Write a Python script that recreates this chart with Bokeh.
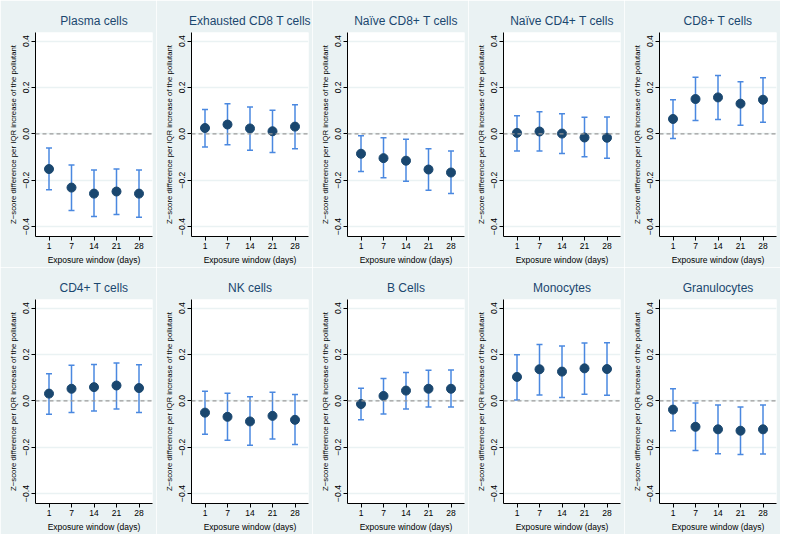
from bokeh.plotting import figure
from bokeh.layouts import gridplot
from bokeh.models import FixedTicker, Span, Whisker, TeeHead, ColumnDataSource
from bokeh.embed import file_html
from bokeh.resources import INLINE

windows = ["1", "7", "14", "21", "28"]

plasma_est = [-0.152, -0.232, -0.258, -0.249, -0.258]
plasma_lo = [-0.241, -0.331, -0.357, -0.348, -0.360]
plasma_hi = [-0.061, -0.135, -0.156, -0.152, -0.156]

exh_cd8_est = [0.025, 0.040, 0.023, 0.011, 0.031]
exh_cd8_lo = [-0.057, -0.047, -0.071, -0.081, -0.065]
exh_cd8_hi = [0.105, 0.130, 0.116, 0.102, 0.125]

naive_cd8_est = [-0.086, -0.105, -0.116, -0.154, -0.167]
naive_cd8_lo = [-0.163, -0.190, -0.205, -0.244, -0.258]
naive_cd8_hi = [-0.008, -0.017, -0.024, -0.064, -0.074]

naive_cd4_est = [0.004, 0.010, 0.001, -0.016, -0.017]
naive_cd4_lo = [-0.074, -0.074, -0.085, -0.099, -0.105]
naive_cd4_hi = [0.078, 0.095, 0.086, 0.071, 0.072]

cd8_est = [0.064, 0.150, 0.157, 0.130, 0.147]
cd8_lo = [-0.020, 0.057, 0.062, 0.037, 0.050]
cd8_hi = [0.147, 0.244, 0.252, 0.225, 0.242]

cd4_est = [0.031, 0.052, 0.059, 0.066, 0.055]
cd4_lo = [-0.058, -0.050, -0.044, -0.035, -0.050]
cd4_hi = [0.117, 0.153, 0.157, 0.163, 0.156]

nk_est = [-0.051, -0.069, -0.089, -0.065, -0.082]
nk_lo = [-0.144, -0.170, -0.192, -0.165, -0.188]
nk_hi = [0.041, 0.033, 0.017, 0.037, 0.027]

bcell_est = [-0.014, 0.021, 0.044, 0.052, 0.052]
bcell_lo = [-0.082, -0.057, -0.035, -0.027, -0.027]
bcell_hi = [0.054, 0.096, 0.122, 0.132, 0.133]

mono_est = [0.103, 0.136, 0.126, 0.140, 0.137]
mono_lo = [0.003, 0.025, 0.014, 0.028, 0.024]
mono_hi = [0.199, 0.243, 0.236, 0.249, 0.250]

gran_est = [-0.038, -0.112, -0.123, -0.129, -0.123]
gran_lo = [-0.129, -0.214, -0.228, -0.232, -0.229]
gran_hi = [0.052, -0.010, -0.018, -0.027, -0.018]

panels = [
    ("Plasma cells", plasma_est, plasma_lo, plasma_hi),
    ("Exhausted CD8 T cells", exh_cd8_est, exh_cd8_lo, exh_cd8_hi),
    ("Naïve CD8+ T cells", naive_cd8_est, naive_cd8_lo, naive_cd8_hi),
    ("Naïve CD4+ T cells", naive_cd4_est, naive_cd4_lo, naive_cd4_hi),
    ("CD8+ T cells", cd8_est, cd8_lo, cd8_hi),
    ("CD4+ T cells", cd4_est, cd4_lo, cd4_hi),
    ("NK cells", nk_est, nk_lo, nk_hi),
    ("B Cells", bcell_est, bcell_lo, bcell_hi),
    ("Monocytes", mono_est, mono_lo, mono_hi),
    ("Granulocytes", gran_est, gran_lo, gran_hi),
]

y_ticks = [-0.4, -0.2, 0, 0.2, 0.4]
y_labels = {-0.4: "\u22120.4", -0.2: "\u22120.2", 0: "0.0", 0.2: "0.2", 0.4: "0.4"}

NAVY = "#1a476f"
BAR = "#4a88e0"
BG = "#eaf2f3"
FONT = "Liberation Sans"

figs = []
for title, est, lo, hi in panels:
    xs = list(range(1, len(windows) + 1))
    src = ColumnDataSource(dict(x=xs, est=est, lo=lo, hi=hi))
    p = figure(width=156, height=267, x_range=(0.4, 5.6), y_range=(-0.443, 0.437),
               output_backend="svg", toolbar_location=None,
               min_border_left=35, min_border_right=4, min_border_top=32, min_border_bottom=30,
               background_fill_color="white", border_fill_color=BG, outline_line_color=None)
    p.title.text = title
    p.title.align = "center"
    p.title.text_font = FONT
    p.title.text_font_size = "12px"
    p.title.text_font_style = "normal"
    p.title.text_color = NAVY

    p.xgrid.visible = False
    p.ygrid.grid_line_color = BG
    p.ygrid.grid_line_width = 1.5

    p.xaxis.ticker = FixedTicker(ticks=xs)
    p.xaxis.major_label_overrides = {i + 1: w for i, w in enumerate(windows)}
    p.xaxis.axis_label = "Exposure window (days)"
    p.yaxis.ticker = FixedTicker(ticks=y_ticks)
    p.yaxis.major_label_overrides = y_labels
    p.yaxis.major_label_orientation = "vertical"
    p.yaxis.axis_label = "Z\u2212score difference per IQR increase of the pollutant"

    for ax in (p.xaxis[0], p.yaxis[0]):
        ax.axis_line_color = "black"
        ax.major_tick_line_color = "black"
        ax.major_tick_in = 0
        ax.major_tick_out = 4
        ax.minor_tick_line_color = None
        ax.major_label_text_font = FONT
        ax.major_label_text_font_size = "8.5px"
        ax.major_label_text_color = "black"
        ax.axis_label_text_font = FONT
        ax.axis_label_text_font_style = "normal"
        ax.axis_label_text_color = "black"
        ax.major_label_standoff = 2
        ax.axis_label_standoff = 3
    p.xaxis.axis_label_text_font_size = "8.5px"
    p.yaxis.axis_label_text_font_size = "7.8px"

    p.add_layout(Span(location=0, dimension="width", line_color="#9a9a9a",
                      line_dash="4 3", line_width=1.2))
    p.add_layout(Whisker(source=src, base="x", lower="lo", upper="hi",
                         line_color=BAR, line_width=1.5,
                         lower_head=TeeHead(size=6, line_color=BAR, line_width=1.5),
                         upper_head=TeeHead(size=6, line_color=BAR, line_width=1.5)))
    p.scatter("x", "est", source=src, size=9, fill_color=NAVY, line_color=NAVY)
    figs.append(p)

grid = gridplot([figs[:5], figs[5:]], toolbar_location=None)
open("out.html", "w").write(file_html(grid, INLINE))
